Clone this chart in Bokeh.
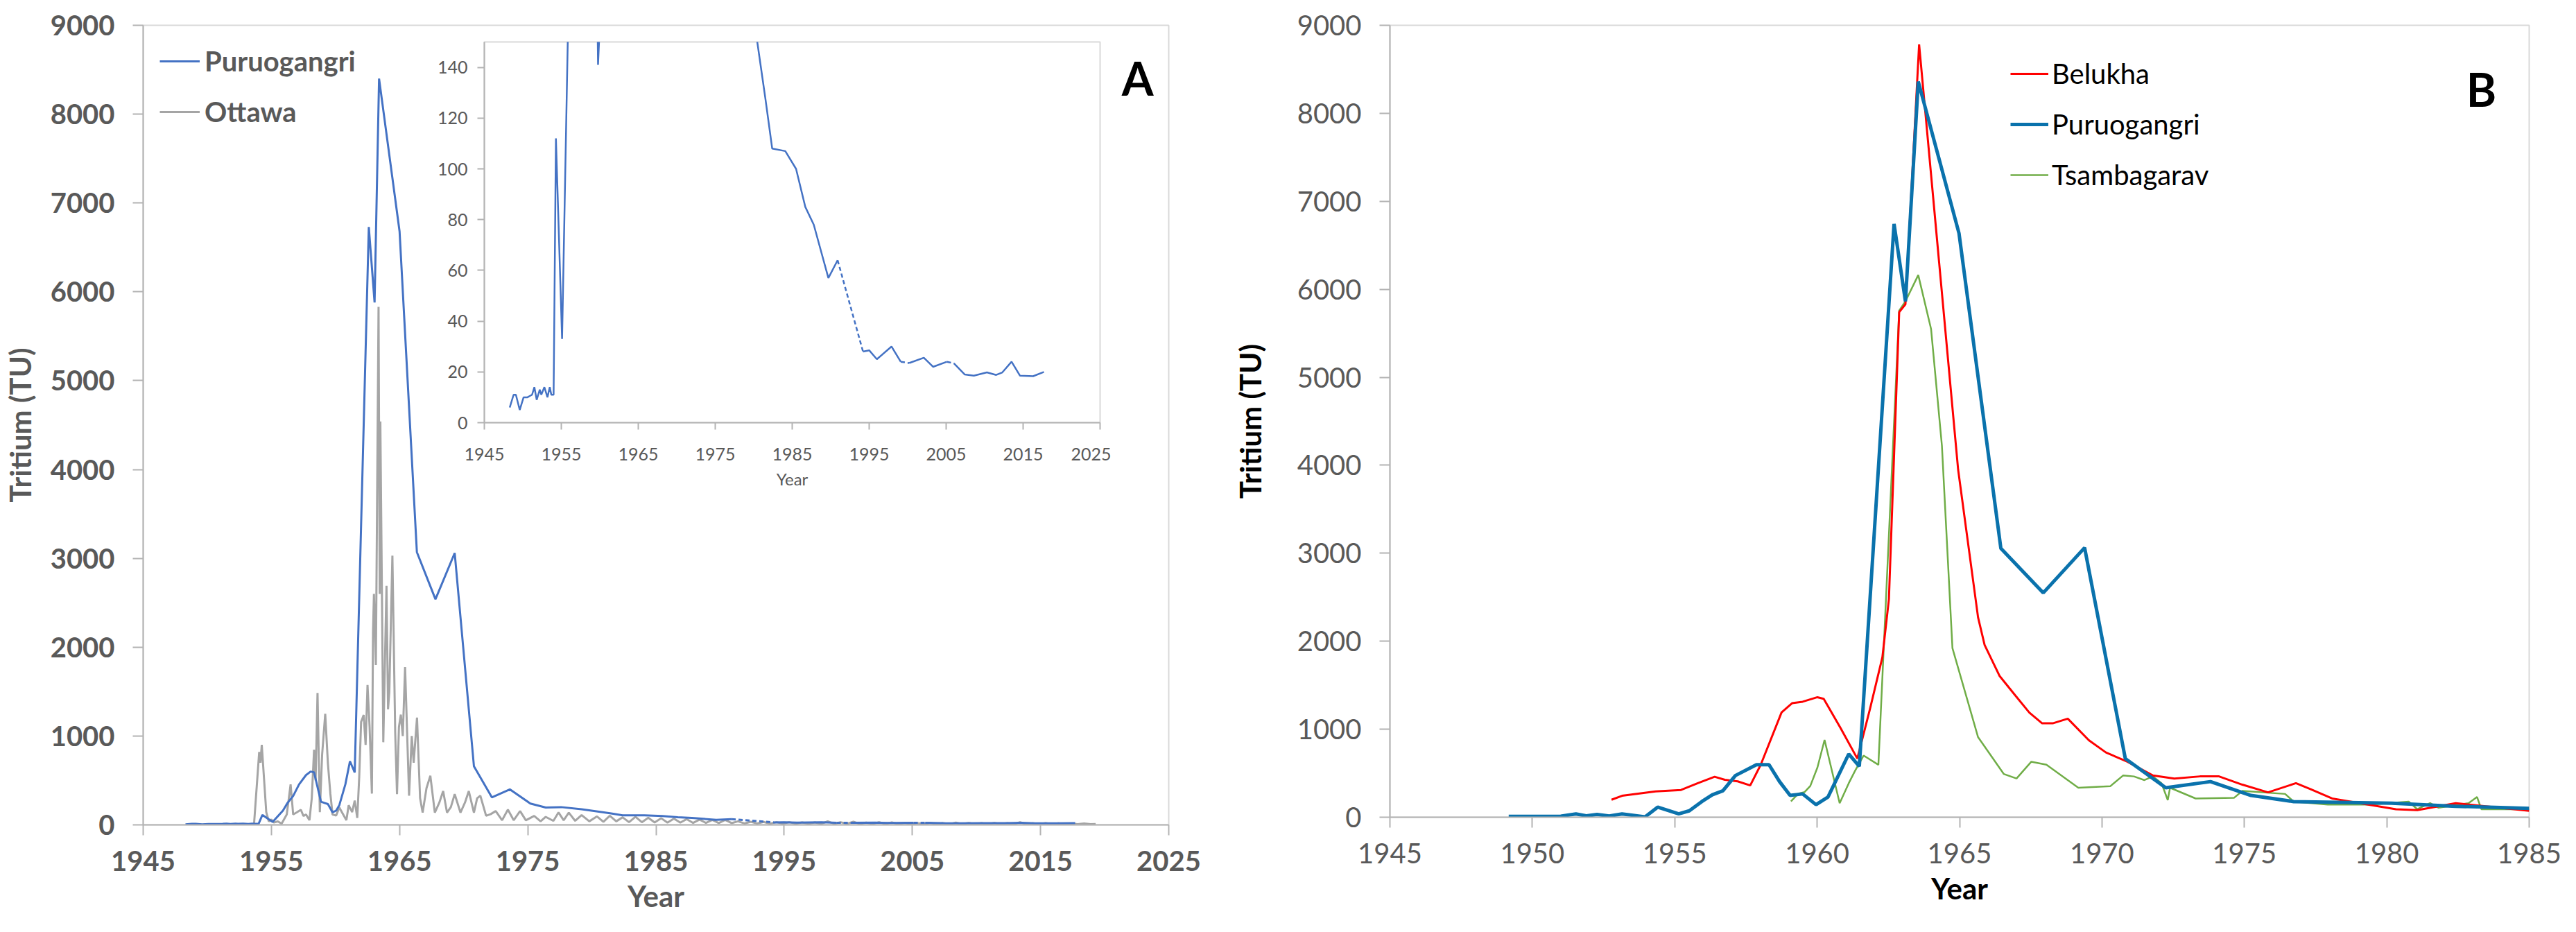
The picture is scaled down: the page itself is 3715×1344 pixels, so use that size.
import math
from bokeh.plotting import figure
from bokeh.models import Range1d, FixedTicker, Legend, LegendItem, Label, GridBox
from bokeh.embed import file_html
from bokeh.resources import INLINE

# ---------------- data: panel A ----------------
pur_years = [1948.3, 1948.8, 1949.1, 1949.6, 1950.1, 1950.6, 1951.2, 1951.5, 1951.8, 1952.2,
             1952.4, 1952.8, 1953.2, 1953.5, 1953.7, 1954.0, 1954.3, 1955.1, 1955.9, 1956.26,
             1956.7, 1957.16, 1957.7, 1958.06, 1958.33, 1958.87, 1959.14, 1959.41, 1959.77, 1960.05,
             1960.3, 1960.77, 1961.13, 1961.5, 1962.6, 1963.05, 1963.4, 1965.0, 1966.35, 1967.8,
             1969.3, 1970.8, 1972.2, 1973.6, 1975.2, 1976.4, 1977.6, 1979.2, 1980.46, 1981.5,
             1982.4, 1984.1, 1985.5, 1986.7, 1987.8, 1989.7, 1990.9,
             1994.2, 1995.0, 1996.0, 1997.9, 1999.1,
             2000.2, 2002.1, 2003.3, 2005.1,
             2006.0, 2007.4, 2008.6, 2010.3, 2011.5, 2012.3, 2013.5, 2014.6, 2016.3, 2017.7]
pur_vals = [6, 11, 11, 5, 10, 10, 11, 14, 9, 13,
            11, 14, 10, 14, 11, 11, 112, 33, 160, 247,
            325, 456, 560, 600, 591, 260, 247, 234, 141, 160,
            221, 456, 716, 590, 6730, 5880, 8400, 6680, 3070, 2540,
            3060, 660, 310, 400, 240, 195, 200, 175, 150, 128,
            108, 107, 100, 85, 78, 57, 64,
            28, 28.5, 25, 30, 24,
            23.5, 25.6, 22, 24,
            23.4, 19, 18.5, 19.8, 18.8, 19.8, 24, 18.5, 18.3, 20]
# gaps in the record (drawn dashed) start after these years
pur_gap_after = [1990.9, 1999.1, 2005.1]

ott_years = [1953.65, 1954.05, 1954.15, 1954.25, 1954.6, 1954.8, 1955.0, 1955.2, 1955.5, 1955.8,
             1956.2, 1956.5, 1956.7, 1957.0, 1957.3, 1957.5, 1957.7, 1957.97, 1958.15, 1958.33,
             1958.45, 1958.6, 1958.78, 1958.96, 1959.2, 1959.41, 1959.6, 1959.77, 1960.05, 1960.3,
             1960.6, 1960.85, 1961.03, 1961.3, 1961.5, 1961.7, 1961.85, 1962.0, 1962.2, 1962.35,
             1962.5, 1962.66, 1962.84, 1962.93, 1963.0, 1963.15, 1963.36, 1963.45, 1963.5, 1963.73,
             1963.98, 1964.1, 1964.2, 1964.44, 1964.66, 1964.8, 1964.95, 1965.1, 1965.25, 1965.43,
             1965.74, 1965.95, 1966.1, 1966.36, 1966.6, 1966.8, 1967.1, 1967.4, 1967.75, 1968.1,
             1968.4, 1968.7, 1969.0, 1969.3, 1969.75, 1970.1, 1970.4, 1970.8, 1971.05, 1971.3,
             1971.75, 1972.1, 1972.5, 1973.0, 1973.45, 1973.9, 1974.4, 1974.85, 1975.5, 1976.0,
             1976.4, 1977.0, 1977.4, 1977.8, 1978.2, 1978.7, 1979.2, 1979.8, 1980.4, 1980.9,
             1981.4, 1981.9, 1982.4, 1982.9, 1983.4, 1983.9, 1984.4, 1984.9, 1985.4, 1985.9,
             1986.4, 1986.9, 1987.4, 1987.9, 1988.4, 1988.9, 1989.4, 1989.9, 1990.4, 1990.9,
             1991.4, 1991.9, 1992.4, 1992.9, 1993.4, 1993.9, 1994.4, 1994.9, 1995.4, 1995.9,
             1996.4, 1996.9, 1997.4, 1997.9, 1998.4, 1998.9, 1999.4, 1999.9, 2000.4, 2000.9,
             2001.4, 2001.9, 2002.4, 2002.9, 2003.4, 2003.9, 2004.4, 2004.9, 2005.4, 2005.9,
             2006.4, 2006.9, 2007.4, 2007.9, 2008.4, 2008.9, 2009.4, 2009.9, 2010.4, 2010.9,
             2011.4, 2011.9, 2012.4, 2012.9, 2013.4, 2013.9, 2014.4, 2014.9, 2015.4, 2015.9,
             2016.4, 2016.9, 2017.4, 2017.9, 2018.4, 2018.9, 2019.3]
ott_vals = [13, 820, 700, 900, 143, 39, 60, 26, 39, 13,
            117, 456, 117, 143, 170, 100, 117, 52, 300, 846,
            500, 1484, 143, 794, 1250, 690, 352, 117, 104, 195,
            117, 52, 221, 143, 273, 78, 534, 1159, 1237, 900,
            1575, 1107, 352, 2175, 2600, 1800, 5830, 2600, 4540, 930,
            2690, 1300, 1500, 3030, 1034, 345, 1100, 1241, 1000, 1776,
            328, 1000, 700, 1207, 300, 138, 414, 552, 138, 250,
            380, 138, 200, 345, 138, 250, 380, 138, 300, 328,
            103, 120, 155, 52, 172, 52, 155, 52, 100, 40,
            90, 45, 140, 52, 138, 45, 110, 40, 95, 34,
            103, 40, 85, 30, 90, 30, 80, 28, 75, 25,
            70, 25, 65, 22, 60, 22, 55, 20, 55, 20,
            40, 16, 35, 15, 33, 14, 30, 14, 30, 13,
            28, 13, 27, 12, 40, 12, 30, 12, 35, 11,
            25, 11, 30, 10, 28, 10, 22, 10, 20, 9,
            22, 9, 20, 9, 25, 9, 22, 8, 20, 8,
            22, 8, 20, 8, 30, 8, 18, 8, 20, 8,
            18, 8, 16, 8, 15, 8, 10]

# ---------------- data: panel B ----------------
bel_years = [1952.78, 1953.15, 1954.33, 1955.22, 1955.81, 1956.4, 1956.76, 1957.21, 1957.65, 1958.02,
             1958.75, 1959.12, 1959.49, 1960.01, 1960.23, 1960.82, 1961.41, 1961.85, 1962.29, 1962.52,
             1962.88, 1963.1, 1963.58, 1964.95, 1965.65, 1965.88, 1966.4, 1966.92, 1967.45, 1967.9,
             1968.27, 1968.8, 1969.54, 1970.14, 1970.89, 1971.79, 1972.54, 1973.44, 1974.11, 1974.93,
             1975.83, 1976.81, 1977.33, 1978.08, 1980.32, 1981.07, 1982.42, 1982.72, 1985.0]
bel_vals = [199, 244, 293, 310, 387, 460, 426, 408, 362, 597,
            1191, 1296, 1313, 1364, 1346, 1015, 667, 1224, 1817, 2480,
            5740, 5830, 8783, 3950, 2271, 1957, 1608, 1399, 1189, 1067,
            1067, 1120, 875, 736, 631, 474, 440, 464, 464, 370,
            283, 387, 318, 213, 91, 80, 160, 150, 73]

pb_years = [1949.17, 1951.0, 1951.53, 1951.9, 1952.27, 1952.7, 1953.15, 1953.96, 1954.4, 1955.14,
            1955.51, 1955.95, 1956.32, 1956.69, 1957.13, 1957.87, 1958.31, 1958.68, 1959.05, 1959.49,
            1959.96, 1960.38, 1961.11, 1961.48, 1962.7, 1963.1, 1963.55, 1964.98, 1966.45, 1967.94,
            1969.39, 1970.82, 1972.24, 1973.81, 1975.23, 1976.73, 1980.17, 1982.42, 1985.0]
pb_vals = [10, 12, 38, 15, 31, 14, 38, 4, 115, 38,
           73, 178, 255, 300, 474, 597, 597, 405, 248, 265,
           143, 230, 719, 579, 6743, 5863, 8361, 6637, 3056, 2550,
           3063, 666, 335, 405, 248, 178, 160, 125, 100]

tsa_years = [1959.08, 1959.34, 1959.56, 1959.76, 1960.01, 1960.26, 1960.79, 1961.11, 1961.33, 1961.63,
             1962.15, 1962.88, 1963.1, 1963.55, 1964.0, 1964.38, 1964.75, 1965.65, 1966.55, 1967.0,
             1967.52, 1968.05, 1969.17, 1970.29, 1970.74, 1971.12, 1971.49, 1971.79, 1972.09, 1972.31,
             1972.39, 1973.29, 1974.635, 1974.93, 1976.43, 1976.73, 1977.93, 1979.43, 1980.77, 1981.07,
             1981.52, 1981.82, 1982.87, 1983.17, 1983.32, 1985.0]
tsa_vals = [181, 268, 286, 356, 565, 879, 160, 387, 527, 701,
            596, 5758, 5863, 6162, 5548, 4224, 1922, 910, 492, 440,
            631, 597, 335, 352, 474, 464, 422, 464, 387, 195,
            335, 213, 220, 300, 265, 178, 143, 143, 178, 91,
            160, 108, 160, 230, 91, 91]

a_xticks = [1945, 1955, 1965, 1975, 1985, 1995, 2005, 2015, 2025]
a_yticks = [0, 1000, 2000, 3000, 4000, 5000, 6000, 7000, 8000, 9000]
b_xticks = [1945, 1950, 1955, 1960, 1965, 1970, 1975, 1980, 1985]
inset_yticks = [0, 20, 40, 60, 80, 100, 120, 140]

# ---------------- styling ----------------
FONT = "Lato"
GREY_TXT = "#595959"
AXIS_COL = "#B3B3B3"
FRAME_COL = "#D9D9D9"
BLUE_A = "#4472C4"
GREY_LINE = "#A5A5A5"
RED = "#FF0000"
BLUE_B = "#0A72AC"
GREEN = "#70AD47"


def style_axes(p, xticks, yticks, lab_size, lab_color, lab_style, tick_out, lab_standoff_x, lab_standoff_y):
    p.xgrid.visible = False
    p.ygrid.visible = False
    p.xaxis.ticker = FixedTicker(ticks=xticks)
    p.yaxis.ticker = FixedTicker(ticks=yticks)
    for ax in (p.xaxis[0], p.yaxis[0]):
        ax.axis_line_color = AXIS_COL
        ax.axis_line_width = 2
        ax.major_tick_line_color = AXIS_COL
        ax.major_tick_line_width = 2
        ax.major_tick_in = 0
        ax.major_tick_out = tick_out
        ax.minor_tick_line_color = None
        ax.major_label_text_font = FONT
        ax.major_label_text_font_size = lab_size
        ax.major_label_text_color = lab_color
        ax.major_label_text_font_style = lab_style
    p.xaxis[0].major_label_standoff = lab_standoff_x
    p.yaxis[0].major_label_standoff = lab_standoff_y
    p.outline_line_color = FRAME_COL
    p.outline_line_width = 2


def solid_with_gaps(xs, ys, gaps):
    ox, oy = [], []
    for x, y in zip(xs, ys):
        ox.append(x)
        oy.append(y)
        if x in gaps:
            ox.append(float("nan"))
            oy.append(float("nan"))
    return ox, oy


def dashed_bridges(xs, ys, gaps):
    bx, by = [], []
    for i, x in enumerate(xs):
        if x in gaps and i + 1 < len(xs):
            bx.append([x, xs[i + 1]])
            by.append([ys[i], ys[i + 1]])
    return bx, by


# ---------------- panel A ----------------
pA = figure(frame_width=1485, frame_height=1153, min_border_left=200, min_border_right=67,
            min_border_top=25, min_border_bottom=150,
            x_range=Range1d(1945, 2025), y_range=Range1d(0, 9000),
            output_backend="svg", toolbar_location=None)
pA.background_fill_color = "white"
pA.border_fill_color = "white"
style_axes(pA, a_xticks, a_yticks, "40px", GREY_TXT, "bold", 15, 22, 26)
pA.xaxis.axis_label = "Year"
pA.yaxis.axis_label = "Tritium (TU)"
for ax in (pA.xaxis[0], pA.yaxis[0]):
    ax.axis_label_text_font = FONT
    ax.axis_label_text_font_size = "42px"
    ax.axis_label_text_font_style = "bold"
    ax.axis_label_text_color = GREY_TXT
pA.xaxis[0].axis_label_standoff = 8
pA.yaxis[0].axis_label_standoff = 16

ott_r = pA.line(ott_years, ott_vals, line_color=GREY_LINE, line_width=3)
sx, sy = solid_with_gaps(pur_years, pur_vals, pur_gap_after)
pur_r = pA.line(sx, sy, line_color=BLUE_A, line_width=3)
bx, by = dashed_bridges(pur_years, pur_vals, pur_gap_after)
pA.multi_line(bx, by, line_color=BLUE_A, line_width=3, line_dash="6 4")

legA = Legend(items=[LegendItem(label="Puruogangri", renderers=[pur_r]),
                     LegendItem(label="Ottawa", renderers=[ott_r])],
              location=(16, 992), margin=0, padding=8, spacing=17,
              glyph_width=58, glyph_height=56, label_height=56, label_standoff=7,
              label_text_font=FONT, label_text_font_size="40px", label_text_font_style="bold",
              label_text_color=GREY_TXT, border_line_alpha=0, background_fill_alpha=0)
pA.add_layout(legA)
pA.add_layout(Label(x=2022.57, y=8405, text="A", text_align="center", text_baseline="alphabetic",
                    text_font=FONT, text_font_size="66px", text_font_style="bold", text_color="black"))

# ---------------- inset (within A) ----------------
pI = figure(frame_width=888, frame_height=549, min_border_left=106, min_border_right=16,
            min_border_top=13, min_border_bottom=108,
            x_range=Range1d(1945, 2025), y_range=Range1d(0, 150),
            output_backend="svg", toolbar_location=None)
pI.background_fill_color = "white"
pI.border_fill_alpha = 0
style_axes(pI, a_xticks, inset_yticks, "25px", GREY_TXT, "normal", 10, 26, 14)
pI.xaxis.axis_label = "Year"
pI.xaxis[0].axis_label_text_font = FONT
pI.xaxis[0].axis_label_text_font_size = "24px"
pI.xaxis[0].axis_label_text_font_style = "normal"
pI.xaxis[0].axis_label_text_color = GREY_TXT
pI.xaxis[0].axis_label_standoff = 9
pI.line(sx, sy, line_color=BLUE_A, line_width=2.5)
pI.multi_line(bx, by, line_color=BLUE_A, line_width=2.5, line_dash="6 4")

# ---------------- panel B ----------------
pB = figure(frame_width=1643, frame_height=1142, min_border_left=252, min_border_right=50,
            min_border_top=36, min_border_bottom=150,
            x_range=Range1d(1945, 1985), y_range=Range1d(0, 9000),
            output_backend="svg", toolbar_location=None)
pB.background_fill_color = "white"
pB.border_fill_color = "white"
style_axes(pB, b_xticks, a_yticks, "40px", GREY_TXT, "normal", 15, 22, 26)
pB.xaxis.axis_label = "Year"
pB.yaxis.axis_label = "Tritium (TU)"
for ax in (pB.xaxis[0], pB.yaxis[0]):
    ax.axis_label_text_font = FONT
    ax.axis_label_text_font_size = "42px"
    ax.axis_label_text_font_style = "bold"
    ax.axis_label_text_color = "black"
pB.xaxis[0].axis_label_standoff = 8
pB.yaxis[0].axis_label_standoff = 40

tsa_r = pB.line(tsa_years, tsa_vals, line_color=GREEN, line_width=2.5)
bel_r = pB.line(bel_years, bel_vals, line_color=RED, line_width=3)
pb_r = pB.line(pb_years, pb_vals, line_color=BLUE_B, line_width=5)

legB = Legend(items=[LegendItem(label="Belukha", renderers=[bel_r]),
                     LegendItem(label="Puruogangri", renderers=[pb_r]),
                     LegendItem(label="Tsambagarav", renderers=[tsa_r])],
              location=(887, 890), margin=0, padding=8, spacing=17,
              glyph_width=55, glyph_height=56, label_height=56, label_standoff=5,
              label_text_font=FONT, label_text_font_size="40px", label_text_font_style="normal",
              label_text_color="black", border_line_alpha=0, background_fill_alpha=0)
pB.add_layout(legB)
pB.add_layout(Label(x=1983.32, y=8275, text="B", text_align="center", text_baseline="alphabetic",
                    text_font=FONT, text_font_size="66px", text_font_style="bold", text_color="black"))

# ---------------- layout ----------------
grid = GridBox(children=[(pA, 0, 0, 3, 3), (pI, 1, 1, 1, 1), (pB, 0, 3, 3, 1)],
               rows=["47px", "670px", "611px"],
               cols=["592px", "1010px", "150px", "1945px"], spacing=0)

open("out.html", "w").write(file_html(grid, INLINE, title="Tritium"))
